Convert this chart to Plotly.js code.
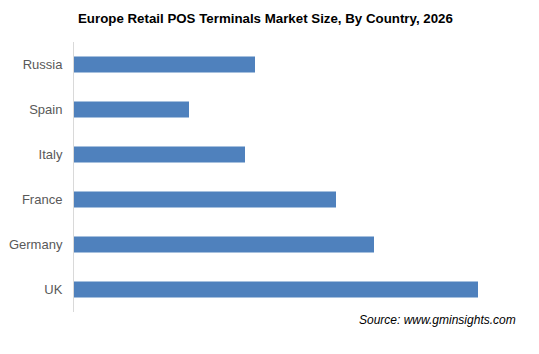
<!DOCTYPE html>
<html>
<head>
<meta charset="utf-8">
<script src="https://cdn.plot.ly/plotly-3.0.1.min.js"></script>
<style>html,body{margin:0;padding:0;background:#fff;}#chart{width:539px;height:354px;}</style>
</head>
<body>
<div id="chart"></div>
<script>
const countries = ["Russia", "Spain", "Italy", "France", "Germany", "UK"];
const marketSize = [181, 115, 171, 262, 300, 404];
const chartTitle = "Europe Retail POS Terminals Market Size, By Country, 2026";
const sourceText = "Source: www.gminsights.com";

const data = [{
  type: "bar",
  orientation: "h",
  y: countries,
  x: marketSize,
  marker: {color: "#4F81BD"},
  hoverinfo: "none"
}];

const layout = {
  width: 539,
  height: 354,
  margin: {l: 74, r: 21, t: 42, b: 42},
  paper_bgcolor: "#ffffff",
  plot_bgcolor: "#ffffff",
  bargap: 0.64,
  showlegend: false,
  title: {
    text: "<b>" + chartTitle + "</b>",
    font: {family: "Liberation Sans, Arial, sans-serif", size: 13.3, color: "#000000"},
    x: 0.4925, xref: "container", xanchor: "center",
    y: 0.947, yref: "container", yanchor: "middle"
  },
  xaxis: {
    range: [0, 444],
    showgrid: false,
    zeroline: false,
    showline: false,
    showticklabels: false,
    ticks: ""
  },
  yaxis: {
    autorange: "reversed",
    showgrid: false,
    zeroline: false,
    showline: true,
    linecolor: "#d9d9d9",
    linewidth: 1,
    ticks: "",
    ticklabelstandoff: 8,
    tickfont: {family: "Liberation Sans, Arial, sans-serif", size: 13, color: "#595959"}
  },
  annotations: [{
    text: "<i>" + sourceText + "</i>",
    xref: "paper", yref: "paper",
    x: 1, y: -0.03,
    xanchor: "right", yanchor: "middle",
    showarrow: false,
    font: {family: "Liberation Sans, Arial, sans-serif", size: 12, color: "#000000"}
  }]
};

Plotly.newPlot("chart", data, layout, {staticPlot: true, displayModeBar: false});
</script>
</body>
</html>
